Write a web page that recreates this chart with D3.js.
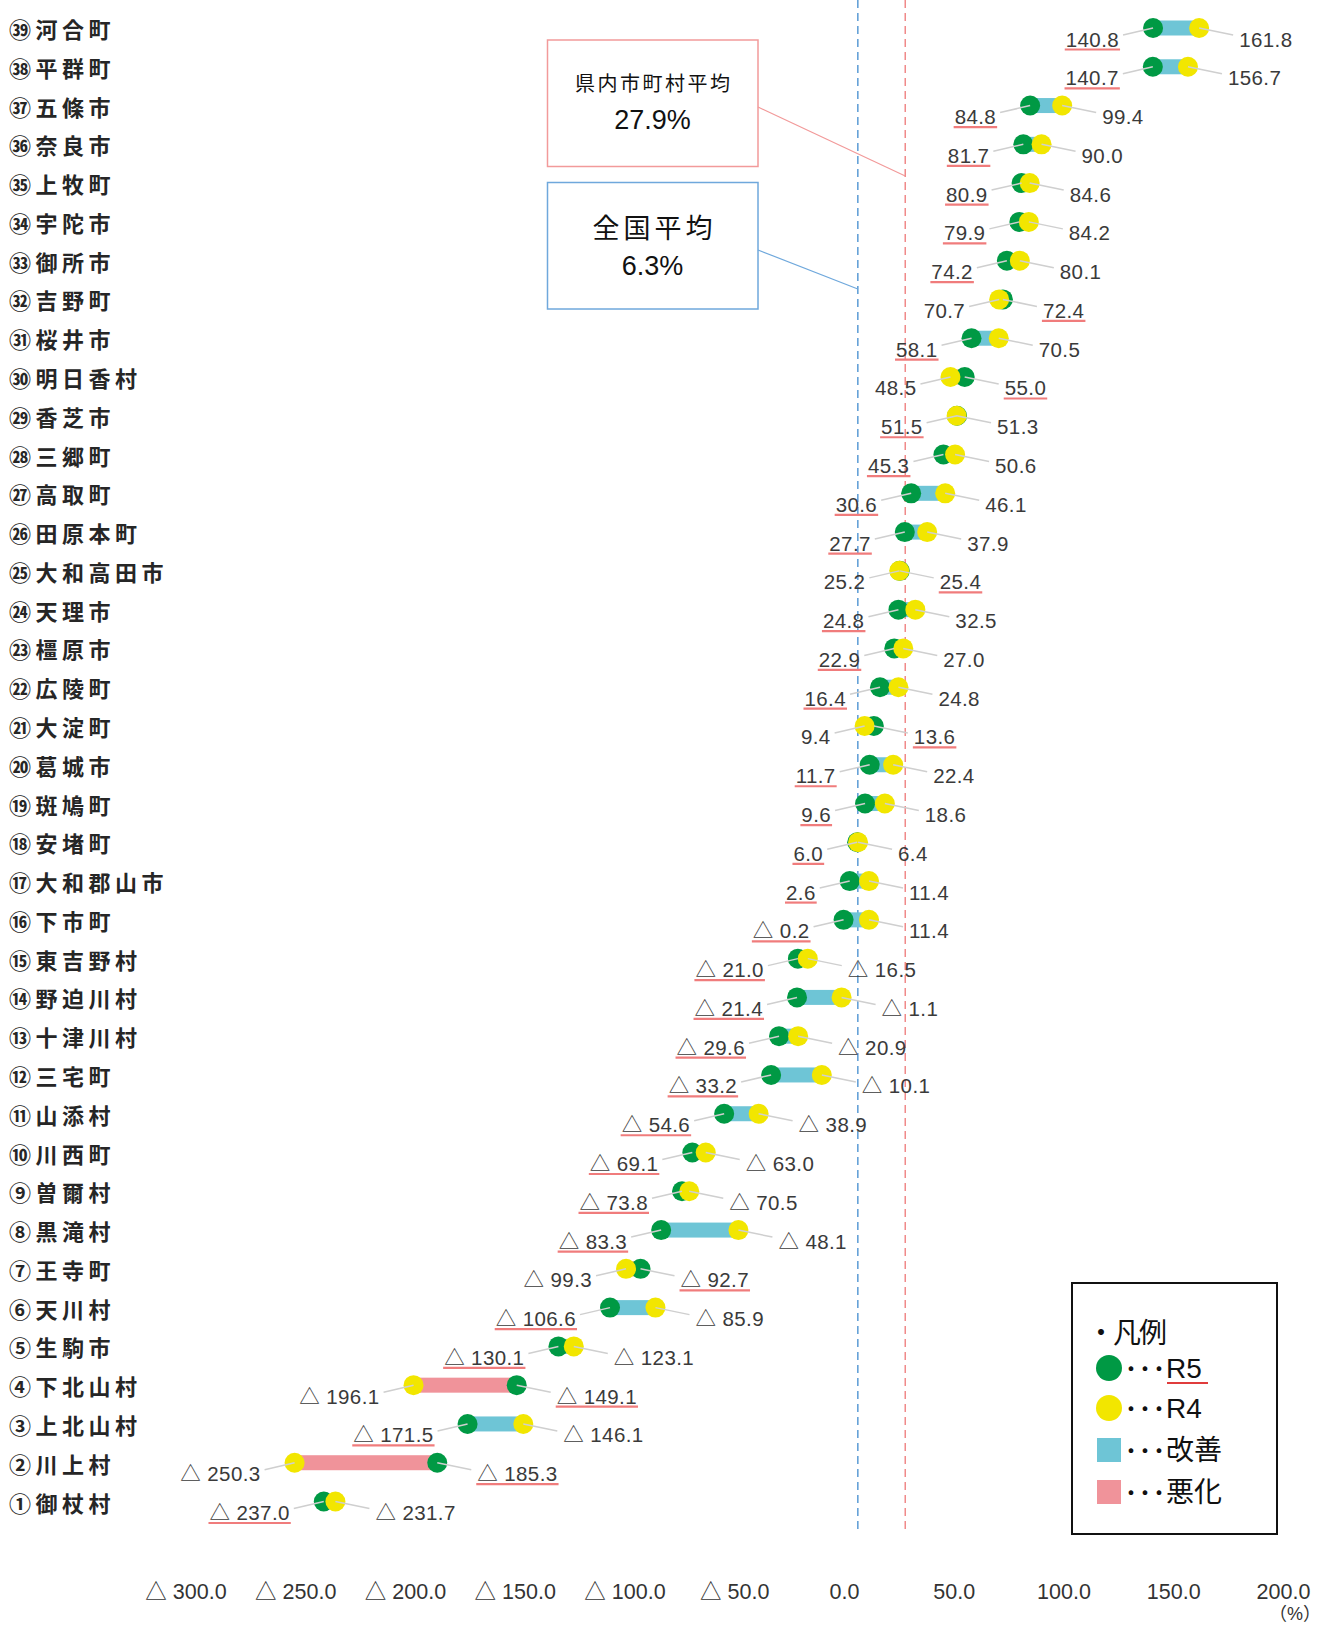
<!DOCTYPE html>
<html><head><meta charset="utf-8">
<script src="https://cdn.jsdelivr.net/npm/d3@7"></script>
<style>body{margin:0;background:#fff}svg{display:block}</style>
</head><body><svg id="c" width="1323" height="1627"></svg>
<script>
// ---- data ----
const categories = ["①御杖村","②川上村","③上北山村","④下北山村","⑤生駒市","⑥天川村","⑦王寺町","⑧黒滝村","⑨曽爾村","⑩川西町","⑪山添村","⑫三宅町","⑬十津川村","⑭野迫川村","⑮東吉野村","⑯下市町","⑰大和郡山市","⑱安堵町","⑲斑鳩町","⑳葛城市","㉑大淀町","㉒広陵町","㉓橿原市","㉔天理市","㉕大和高田市","㉖田原本町","㉗高取町","㉘三郷町","㉙香芝市","㉚明日香村","㉛桜井市","㉜吉野町","㉝御所市","㉞宇陀市","㉟上牧町","㊱奈良市","㊲五條市","㊳平群町","㊴河合町"];
const r5 = [-237.0,-185.3,-171.5,-149.1,-130.1,-106.6,-92.7,-83.3,-73.8,-69.1,-54.6,-33.2,-29.6,-21.4,-21.0,-0.2,2.6,6.0,9.6,11.7,13.6,16.4,22.9,24.8,25.4,27.7,30.6,45.3,51.5,55.0,58.1,72.4,74.2,79.9,80.9,81.7,84.8,140.7,140.8];
const r4 = [-231.7,-250.3,-146.1,-196.1,-123.1,-85.9,-99.3,-48.1,-70.5,-63.0,-38.9,-10.1,-20.9,-1.1,-16.5,11.4,11.4,6.4,18.6,22.4,9.4,24.8,27.0,32.5,25.2,37.9,46.1,50.6,51.3,48.5,70.5,70.7,80.1,84.2,84.6,90.0,99.4,156.7,161.8];
const swappedLabelRows = ["㉙香芝市"]; // R5 label shown on the left despite being larger
const xTicks = [-300,-250,-200,-150,-100,-50,0,50,100,150,200];
const prefAvg = 27.9, natAvg = 6.3;
const prefAvgLabel = ["県内市町村平均","27.9%"];
const natAvgLabel = ["全国平均","6.3%"];
const legendItems = ["R5","R4","改善","悪化"];

// ---- setup ----
const C = {green:"#009944", yellow:"#F2E600", blue:"#6EC5D6", red:"#F0939A", text:"#3a3a3a", lead:"#cfcfcf"};
const NUMF = "'Liberation Sans', Arial, 'Noto Sans CJK JP', sans-serif";
const JPF = "'Noto Sans CJK JP', sans-serif";
const svg = d3.select("#c");
const x = d3.scaleLinear().domain([-300,200]).range([185.5,1283]);
const y = d3.scalePoint().domain(categories.slice().reverse()).range([28,1501.5]);
const fmt = v => v < 0 ? "△ " + Math.abs(v).toFixed(1) : v.toFixed(1);
const rows = categories.map((c,i)=>({c, r5:r5[i], r4:r4[i]}));

// reference lines
[[natAvg,"#5B9BD5"],[prefAvg,"#F08A8A"]].forEach(([v,col])=>{
  svg.append("line").attr("x1",x(v)).attr("x2",x(v)).attr("y1",0).attr("y2",1530)
    .attr("stroke",col).attr("stroke-width",1.5).attr("stroke-dasharray","8,5");
});

// annotation boxes
function annot(y0,h,col,lines,sizes,ys,ls,targetV,ty,ly){
  svg.append("rect").attr("x",547.5).attr("y",y0).attr("width",210.5).attr("height",h)
    .attr("fill","#fff").attr("stroke",col).attr("stroke-width",1.5);
  lines.forEach((t,i)=>{
    svg.append("text").attr("x",652.5+ls[i]/2).attr("y",ys[i]).attr("text-anchor","middle")
      .attr("dominant-baseline","central").attr("font-family",i==0?JPF:NUMF)
      .attr("font-size",sizes[i]).attr("letter-spacing",ls[i]).attr("fill","#111").text(t);
  });
  svg.append("line").attr("x1",758).attr("y1",ly).attr("x2",x(targetV)).attr("y2",ty)
    .attr("stroke",col).attr("stroke-width",1.2);
}
annot(40,126.5,"#F29A9A",prefAvgLabel,[20,27],[82,120],[2.5,0],prefAvg,176,107);
annot(182.5,126.5,"#6FA8DC",natAvgLabel,[27,27],[226,266],[4,0],natAvg,289,250);

// category labels
svg.append("g").selectAll("text").data(categories).join("text")
  .attr("x",9).attr("y",d=>y(d)).attr("dominant-baseline","central")
  .attr("font-family",JPF).attr("font-size",22).attr("font-weight",700)
  .attr("letter-spacing",4.5).attr("fill","#262626").text(d=>d);

// bars
svg.append("g").selectAll("rect").data(rows).join("rect")
  .attr("x",d=>x(Math.min(d.r5,d.r4))).attr("width",d=>Math.abs(x(d.r5)-x(d.r4)))
  .attr("y",d=>y(d.c)-7.5).attr("height",15)
  .attr("fill",d=>d.r5<d.r4?C.blue:C.red);

// dots
svg.append("g").selectAll("circle").data(rows).join("circle")
  .attr("cx",d=>x(d.r5)).attr("cy",d=>y(d.c)).attr("r",10).attr("fill",C.green);
svg.append("g").selectAll("circle").data(rows).join("circle")
  .attr("cx",d=>x(d.r4)).attr("cy",d=>y(d.c)).attr("r",10).attr("fill",C.yellow);

// value labels with leader lines
const gl = svg.append("g");
rows.forEach(d=>{
  let leftIsR5 = d.r5 <= d.r4;
  if (swappedLabelRows.includes(d.c)) leftIsR5 = !leftIsR5;
  const lv = leftIsR5 ? d.r5 : d.r4, rv = leftIsR5 ? d.r4 : d.r5;
  const cy = y(d.c), ly = cy + 11;
  const lx = Math.min(x(d.r5),x(d.r4)) - 34, rx = Math.max(x(d.r5),x(d.r4)) + 40;
  const lDot = leftIsR5 ? x(d.r5) : x(d.r4), rDot = leftIsR5 ? x(d.r4) : x(d.r5);
  gl.append("line").attr("x1",lDot).attr("y1",cy).attr("x2",lx+4).attr("y2",ly-4)
    .attr("stroke",C.lead).attr("stroke-width",1.5);
  gl.append("line").attr("x1",rDot).attr("y1",cy).attr("x2",rx-6).attr("y2",ly-4)
    .attr("stroke",C.lead).attr("stroke-width",1.5);
  const tl = gl.append("text").attr("x",lx).attr("y",ly).attr("text-anchor","end")
    .attr("dominant-baseline","central").attr("font-family",NUMF).attr("font-size",20.5)
    .attr("letter-spacing",0.4).attr("fill",C.text).text(fmt(lv));
  const tr = gl.append("text").attr("x",rx).attr("y",ly).attr("text-anchor","start")
    .attr("dominant-baseline","central").attr("font-family",NUMF).attr("font-size",20.5)
    .attr("letter-spacing",0.4).attr("fill",C.text).text(fmt(rv));
  const t5 = leftIsR5 ? tl : tr;
  const w = t5.node().getComputedTextLength();
  const x0 = leftIsR5 ? lx - w : rx;
  gl.append("line").attr("x1",x0-1).attr("x2",x0+w+1).attr("y1",ly+10.5).attr("y2",ly+10.5)
    .attr("stroke","#F07C7C").attr("stroke-width",2.2);
});

// x axis
const ax = svg.append("g").attr("transform","translate(0,1591)")
  .call(d3.axisBottom(x).tickValues(xTicks).tickSize(0).tickFormat(fmt));
ax.select(".domain").remove();
ax.selectAll("text").attr("y",0).attr("dy","0.35em").attr("font-family",NUMF)
  .attr("font-size",21.5).attr("fill","#333");
svg.append("text").attr("x",1321).attr("y",1614).attr("text-anchor","end")
  .attr("dominant-baseline","central").attr("font-family",NUMF).attr("font-size",18)
  .attr("fill","#333").text("（%）");

// legend
const lg = svg.append("g");
lg.append("rect").attr("x",1072).attr("y",1283).attr("width",205).attr("height",251)
  .attr("fill","#fff").attr("stroke","#111").attr("stroke-width",2);
lg.append("text").attr("x",1087).attr("y",1331).attr("dominant-baseline","central")
  .attr("font-family",JPF).attr("font-size",28).attr("letter-spacing",-2).attr("fill","#111").text("・凡例");
const legY = [1368,1408,1450,1492];
const legMark = [["c",C.green],["c",C.yellow],["s",C.blue],["s",C.red]];
legendItems.forEach((t,i)=>{
  const cy = legY[i];
  if (legMark[i][0]=="c") lg.append("circle").attr("cx",1109).attr("cy",cy).attr("r",13).attr("fill",legMark[i][1]);
  else lg.append("rect").attr("x",1097).attr("y",cy-12).attr("width",24).attr("height",24).attr("fill",legMark[i][1]);
  const tt = lg.append("text").attr("x",1124).attr("y",cy).attr("dominant-baseline","central")
    .attr("font-family",NUMF).attr("font-size",28).attr("fill","#111");
  tt.append("tspan").attr("font-family",JPF).text("･･･");
  tt.append("tspan").text(t);
  if (t=="R5") lg.append("line").attr("x1",1167).attr("x2",1208).attr("y1",1383).attr("y2",1383)
    .attr("stroke","#E03C3C").attr("stroke-width",2);
});
</script></body></html>
